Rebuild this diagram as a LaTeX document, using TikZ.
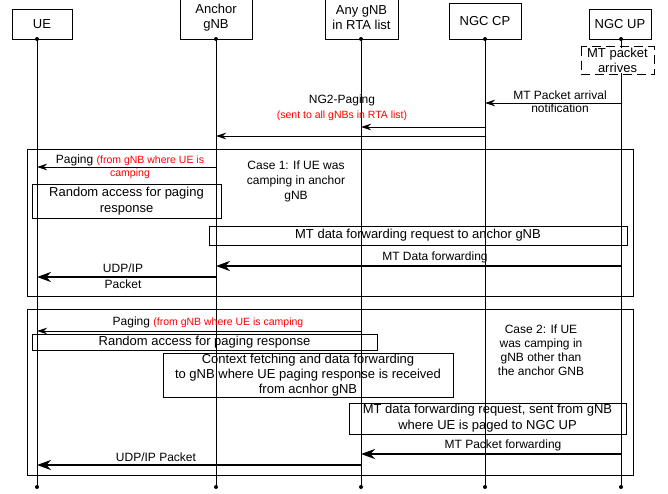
\documentclass[tikz,border=0pt]{standalone}
\usepackage{fontspec}
\setmainfont{Liberation Sans}
\usetikzlibrary{arrows.meta}

\newcommand{\rednote}[1]{{\color{red}\fontsize{10.5}{12}\selectfont #1}}

\tikzset{
  head/.style={draw, line width=0.8pt, align=center, inner sep=0pt,
    font=\fontsize{13}{15}\selectfont},
  stepbox/.style={draw, line width=0.8pt, align=center, inner sep=0pt,
    font=\fontsize{13}{16}\selectfont},
  lbl/.style={align=center, inner sep=0pt, font=\fontsize{12}{14}\selectfont},
  life/.style={line width=0.8pt},
  frame/.style={line width=0.8pt},
  msg/.style={line width=0.8pt, -{Stealth[length=10pt,width=6.5pt]}},
  data/.style={line width=2.5pt, -{Stealth[length=14pt,width=10pt]}},
}

\begin{document}
\begin{tikzpicture}[x=1pt,y=-1pt]
  \useasboundingbox (0,0) rectangle (668,493);

  % heads
  \node[head, minimum width=60pt, minimum height=30pt] (ueh) at (42,24) {UE};
  \node[head, minimum width=72pt, minimum height=42pt] (anch) at (216,18) {Anchor\\gNB};
  \node[head, minimum width=73pt, minimum height=42pt] (anyh) at (361.5,18) {Any gNB\\in RTA list};
  \node[head, minimum width=72pt, minimum height=36pt] (cph) at (485,21) {NGC CP};
  \node[head, minimum width=62pt, minimum height=30pt] (uph) at (620,24) {NGC UP};

  % lifelines
  \coordinate (ue) at (37,39);
  \coordinate (anc) at (216,39);
  \coordinate (any) at (361,39);
  \coordinate (cp) at (485,39);
  \coordinate (up) at (621,39);
  \foreach \n in {ue,anc,any,cp,up}{
    \draw[life] (\n) -- (\n |- 0,487);
    \fill (\n) circle [radius=2pt];
    \fill (\n |- 0,487) circle [radius=2pt];
  }

  % MT packet arrives
  \draw[line width=0.8pt, dash pattern=on 9pt off 5pt] (581,46.5) rectangle (654,74.5);
  \node[fill=white, inner sep=0.5pt, align=center, font=\fontsize{13}{15}\selectfont]
    (arrive) at (617.5,60.5) {MT packet\\arrives};

  \draw[msg] (up |- 0,103) -- (cp |- 0,103);
  \node[lbl, font=\fontsize{12}{13}\selectfont] (notif) at (560,101.5) {MT Packet arrival\\notification};

  \draw[msg] (cp |- 0,127) -- (any |- 0,127);
  \draw[msg] (cp |- 0,136) -- (anc |- 0,136);
  \node[lbl] (ng2) at (342,100) {NG2-Paging};
  \node[lbl] (ng2r) at (342,116) {\rednote{(sent to all gNBs in RTA list)}};

  % case 1
  \draw[frame] (27,149) rectangle (633,296);
  \draw[msg] (anc |- 0,167) -- (ue |- 0,167);
  \node[lbl] (pag1) at (130,160) {Paging \rednote{(from gNB where UE is}};
  \node[lbl] (pag1b) at (130,174) {\rednote{camping}};
  \node[lbl, font=\fontsize{12}{15}\selectfont] (case1) at (296,181) {Case 1: If UE was\\camping in anchor\\gNB};
  \node[stepbox, minimum width=189pt, minimum height=34pt] (ra1) at (126.5,201) {Random access for paging\\response};
  \node[stepbox, minimum width=418pt, minimum height=19pt] (req1) at (418,235.5) {MT data forwarding request to anchor gNB};
  \draw[data] (up |- 0,266) -- (anc |- 0,266);
  \node[lbl] (fwd1) at (435,257) {MT Data forwarding};
  \draw[data] (anc |- 0,277) -- (ue |- 0,277);
  \node[lbl, font=\fontsize{12}{16}\selectfont] (udp1) at (123,276) {UDP/IP\\Packet};

  % case 2
  \draw[frame] (27,309) rectangle (633,475);
  \draw[msg] (any |- 0,331) -- (ue |- 0,331);
  \node[lbl] (pag2) at (208,322) {Paging \rednote{(from gNB where UE is camping}};
  \node[stepbox, minimum width=345pt, minimum height=16pt] (ra2) at (204.5,342) {Random access for paging response};
  \node[stepbox, minimum width=290pt, minimum height=44pt, font=\fontsize{13}{15}\selectfont] (ctx) at (308,375) {Context fetching and data forwarding\\to gNB where UE paging response is received\\from acnhor gNB};
  \node[lbl] (case2) at (541,350) {Case 2: If UE\\was camping in\\gNB other than\\the anchor GNB};
  \node[stepbox, minimum width=277pt, minimum height=31pt] (req2) at (487.5,418.5) {MT data forwarding request, sent from gNB\\where UE is paged to NGC UP};
  \draw[data] (up |- 0,454) -- (any |- 0,454);
  \node[lbl] (fwd2) at (503,445) {MT Packet forwarding};
  \draw[data] (any |- 0,465) -- (ue |- 0,465);
  \node[lbl] (udp2) at (156,457) {UDP/IP Packet};
\end{tikzpicture}
\end{document}
